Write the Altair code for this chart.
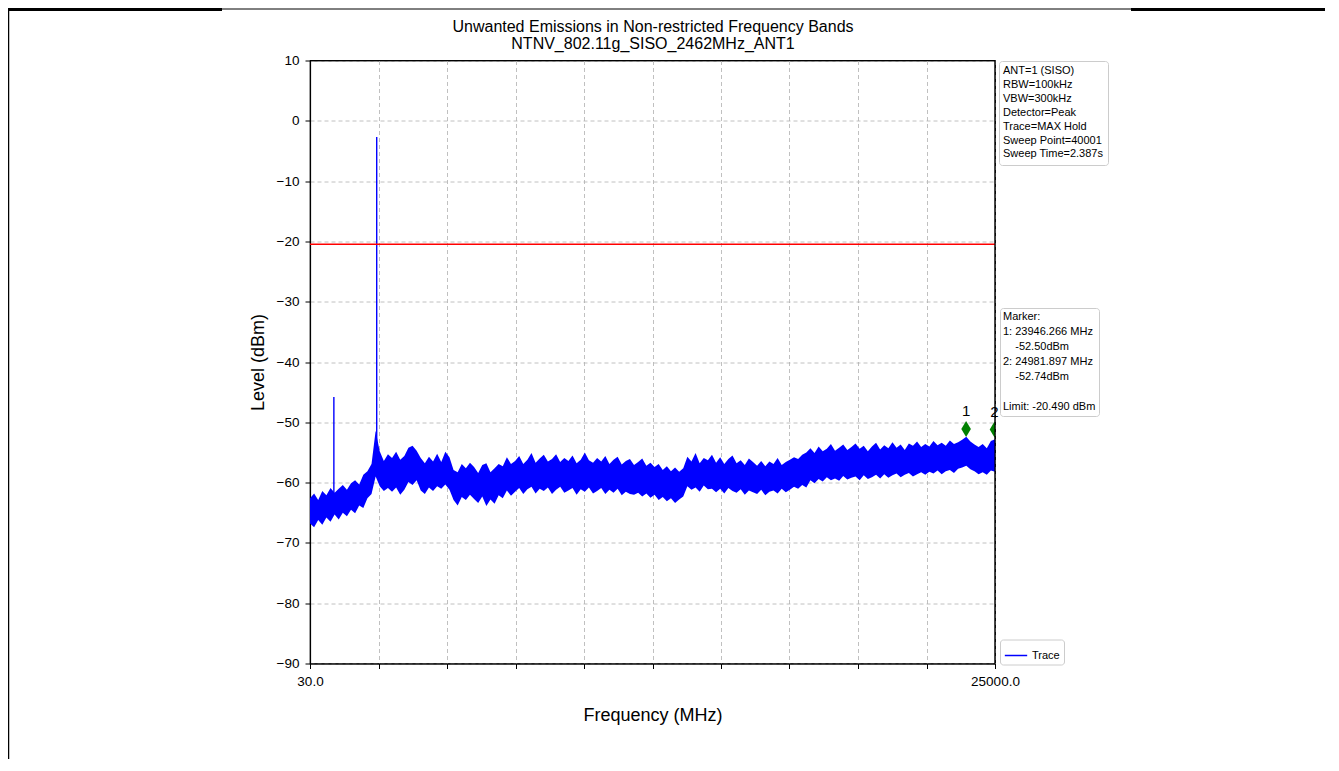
import altair as alt
import numpy as np
import pandas as pd

FONT = "Liberation Sans"

TITLE_LINES = ["Unwanted Emissions in Non-restricted Frequency Bands",
               "NTNV_802.11g_SISO_2462MHz_ANT1"]

SWEEP_START = 30.0
SWEEP_STOP = 25000.0

# noise-band envelope (dBm), evenly spaced sweep bins
UPPER = [
    -62.6, -61.8, -62.9, -61.4, -62.1, -60.9, -61.7, -61.0, -60.4, -61.2,
    -60.1, -59.6, -60.3, -58.7, -58.1, -56.9, -51.4, -54.8, -56.4, -55.3,
    -55.9, -54.9, -56.2, -55.6, -54.2, -53.9, -54.7, -55.9, -56.8, -55.7,
    -56.5, -55.2, -56.6, -54.9, -55.8, -57.9, -58.3, -56.9, -57.6, -56.7,
    -57.4, -58.4, -57.1, -56.8, -58.3, -57.6, -56.9, -57.3, -55.8, -56.9,
    -56.4, -55.6, -56.9, -56.2, -55.1, -56.7, -56.0, -55.4, -56.5, -56.1,
    -55.3, -56.6, -55.9, -56.4, -55.5, -56.8, -56.2, -55.0, -56.3, -56.7,
    -55.9, -56.5, -55.6, -56.9, -56.2, -55.7, -57.0, -56.4, -56.1, -57.1,
    -56.6, -56.0, -57.2, -56.7, -57.4, -56.9, -57.9, -57.3, -58.1, -57.5,
    -58.2, -57.6, -55.7, -56.5, -55.1, -56.8, -55.9, -56.3, -55.4, -56.7,
    -55.8, -56.9, -56.1, -55.5, -56.8, -56.3, -57.1, -56.0, -56.6, -57.2,
    -56.4, -57.3, -56.5, -56.9, -55.9, -57.1, -56.6, -56.2, -55.8, -56.1,
    -55.4, -55.0, -54.3, -55.1, -54.0, -54.8, -54.4, -53.6, -54.7, -54.2,
    -53.7, -54.6, -54.1, -53.5, -54.4, -53.9, -54.8, -54.0, -53.4, -54.5,
    -53.8, -54.3, -53.3, -54.2, -53.7, -54.6, -53.5, -53.9, -53.2, -54.1,
    -53.6, -54.0, -53.1, -53.8, -53.4, -53.9, -53.0, -53.6, -53.3, -52.9,
    -52.4, -53.2, -53.7, -54.1, -53.6, -54.3, -53.1, -52.8]

LOWER = [
    -66.8, -67.4, -66.2, -67.0, -65.8, -66.5, -65.3, -66.1, -65.0, -65.6,
    -64.5, -65.1, -63.8, -64.2, -62.6, -61.9, -59.0, -60.6, -61.4, -60.9,
    -61.5, -60.8, -62.0, -61.2, -59.9, -60.4, -59.6, -61.3, -61.9, -60.8,
    -61.4, -60.6, -61.0, -60.3, -61.2, -62.9, -63.8, -62.4, -62.9, -62.0,
    -62.7, -63.4, -62.3, -63.9, -62.8, -63.5, -62.1, -62.6, -61.3, -62.2,
    -61.5, -60.9, -61.9, -61.1, -60.7, -61.8, -61.0, -61.4, -60.8, -61.9,
    -61.2, -60.7, -61.7, -61.3, -60.9, -62.0, -61.1, -61.5, -60.8, -61.8,
    -61.4, -60.9, -61.9, -61.2, -61.7, -61.0, -62.1, -61.5, -61.9, -62.0,
    -61.7, -62.3, -61.8, -62.5, -62.0, -62.9, -62.4, -63.1, -62.6, -63.4,
    -62.8, -62.3, -60.6, -61.2, -60.8, -61.5, -60.5, -61.1, -61.0, -61.6,
    -61.0, -61.8, -60.9, -61.4, -61.7, -61.1, -62.0, -61.3, -61.6, -61.9,
    -61.2, -62.1, -61.5, -61.3, -61.8, -61.0, -61.6, -61.2, -60.7, -61.0,
    -60.4, -60.8, -59.6, -60.1, -59.4, -59.8, -59.1, -59.6, -59.3, -59.7,
    -58.9, -59.5, -59.2, -59.0, -59.6, -58.8, -59.4, -59.1, -58.7, -59.3,
    -58.6, -59.2, -58.8, -58.5, -59.1, -58.7, -58.4, -59.0, -58.6, -58.3,
    -58.7, -58.2, -58.5, -58.0, -58.6, -58.1, -57.9, -58.4, -57.7, -57.5,
    -57.2, -57.8, -58.1, -58.6, -58.3, -58.7, -58.0, -58.2]

# narrow spurs drawn as vertical strokes
SPIKE_FREQ = [900.0, 2462.0]
SPIKE_TOP = [-45.8, -2.7]
SPIKE_BASE = [-63.0, -59.0]

LIMIT = -20.49

MARKER_FREQ = [23946.266, 24981.897]
MARKER_LEVEL = [-51.1, -51.2]
MARKER_LABEL = ["1", "2"]

X_TICKS = [30, 2527, 5024, 7521, 10018, 12515, 15012, 17509, 20006, 22503, 25000]
Y_TICKS = [-90, -80, -70, -60, -50, -40, -30, -20, -10, 0, 10]

INFO_LINES = ["ANT=1 (SISO)", "RBW=100kHz", "VBW=300kHz", "Detector=Peak",
              "Trace=MAX Hold", "Sweep Point=40001", "Sweep Time=2.387s"]
MARKER_LINES = ["Marker:", "1: 23946.266 MHz",
                "\u200b\u00a0\u00a0\u00a0\u00a0-52.50dBm",
                "2: 24981.897 MHz",
                "\u200b\u00a0\u00a0\u00a0\u00a0-52.74dBm",
                "\u200b",
                "Limit: -20.490 dBm"]

# ---------------------------------------------------------------- data frames
band = pd.DataFrame({
    "freq": np.linspace(SWEEP_START, SWEEP_STOP, len(UPPER)),
    "upper": UPPER,
    "lower": LOWER,
    "series": "Trace",
})
spikes = pd.DataFrame({"freq": SPIKE_FREQ, "top": SPIKE_TOP, "base": SPIKE_BASE,
                       "series": "Trace"})
limit_df = pd.DataFrame({"level": [LIMIT]})
markers = pd.DataFrame({"freq": MARKER_FREQ, "level": MARKER_LEVEL, "label": MARKER_LABEL})
one = pd.DataFrame({"a": [0]})

X_SCALE = alt.Scale(domain=[SWEEP_START, SWEEP_STOP], nice=False, zero=False)
Y_SCALE = alt.Scale(domain=[-90, 10], nice=False, zero=False)

x_axis = alt.Axis(
    values=X_TICKS,
    labelExpr="datum.value == 30 || datum.value == 25000 ? format(datum.value, '.1f') : ''",
    labelFlush=False, labelPadding=6, title="Frequency (MHz)",
    titleY=43, titleBaseline="top", titleFontSize=18,
)
y_axis = alt.Axis(
    values=Y_TICKS,
    labelExpr="replace(format(datum.value, 'd'), '-', '\u2212')",
    labelPadding=6, title="Level (dBm)", titleFontSize=18,
    titleAngle=270, titleX=-52, titleY=301.5, titleBaseline="middle", titleAlign="center",
)

color_scale = alt.Scale(domain=["Trace"], range=["#0000ff"])
trace_legend = alt.Legend(
    orient="none", legendX=690, legendY=579, title=None,
    symbolType="stroke", symbolStrokeColor="#0000ff", symbolStrokeWidth=1.5,
    symbolSize=500, labelFontSize=11, labelFont=FONT, labelColor="black",
    strokeColor="#cccccc", fillColor="white", padding=4, cornerRadius=3,
)

area = alt.Chart(band).mark_area(interpolate="linear", opacity=1).encode(
    x=alt.X("freq:Q", scale=X_SCALE, axis=x_axis),
    y=alt.Y("upper:Q", scale=Y_SCALE, axis=y_axis),
    y2="lower:Q",
    color=alt.Color("series:N", scale=color_scale, legend=trace_legend),
)

spike_layer = alt.Chart(spikes).mark_rule(strokeWidth=1.4).encode(
    x=alt.X("freq:Q", scale=X_SCALE),
    y=alt.Y("top:Q", scale=Y_SCALE),
    y2="base:Q",
    color=alt.Color("series:N", scale=color_scale, legend=trace_legend),
)

limit_layer = alt.Chart(limit_df).mark_rule(color="#ff0000", strokeWidth=1.5).encode(
    y=alt.Y("level:Q", scale=Y_SCALE),
)

diamond = "M0,-1L0.6,0L0,1L-0.6,0Z"
marker_layer = alt.Chart(markers).mark_point(
    shape=diamond, filled=True, color="#008000", size=256, opacity=1, clip=True
).encode(
    x=alt.X("freq:Q", scale=X_SCALE),
    y=alt.Y("level:Q", scale=Y_SCALE),
)
marker_text = alt.Chart(markers).mark_text(
    dy=-18, fontSize=15, font=FONT, color="black"
).encode(
    x=alt.X("freq:Q", scale=X_SCALE),
    y=alt.Y("level:Q", scale=Y_SCALE),
    text="label:N",
)


def text_box(field, lines, lx, ly, line_h, pad):
    df = pd.DataFrame({field: ["\u200b"]})
    return alt.Chart(df).mark_point(opacity=0, size=1).encode(
        x=alt.value(0), y=alt.value(0),
        shape=alt.Shape(f"{field}:N", legend=alt.Legend(
            orient="none", legendX=lx, legendY=ly,
            title=lines, titleFontSize=11, titleFont=FONT, titleFontWeight="normal",
            titleColor="black", titleLineHeight=line_h, titleLimit=400, titlePadding=0,
            titleBaseline="top",
            symbolSize=1, symbolOpacity=0, symbolStrokeWidth=0,
            labelOffset=0, labelFontSize=1, labelColor="white",
            strokeColor="#cccccc", fillColor="white",
            padding=pad, cornerRadius=3,
        )),
    )


info_layer = text_box("info", INFO_LINES, 689, 0.5, 13.9, 4)
mk_layer = text_box("mk", MARKER_LINES, 690, 247.5, 15.0, 3)

# title lines (annotation text above the plot)
title1 = alt.Chart(one).mark_text(font=FONT, fontSize=16, color="black", baseline="middle").encode(
    x=alt.value(343), y=alt.value(-34), text=alt.value(TITLE_LINES[0]))
title2 = alt.Chart(one).mark_text(font=FONT, fontSize=16, color="black", baseline="middle").encode(
    x=alt.value(343), y=alt.value(-17), text=alt.value(TITLE_LINES[1]))

# solid top and right spines
spine_top = alt.Chart(one).mark_rule(color="black", strokeWidth=1.2).encode(y=alt.value(0))
spine_right = alt.Chart(one).mark_rule(color="black", strokeWidth=1.2).encode(x=alt.value(685))

# page frame lines from the scanned figure
frame_top = alt.Chart(one).mark_rule(color="black", strokeWidth=1).encode(
    x=alt.value(-302), x2=alt.value(1015), y=alt.value(-51.5))
frame_top_l = alt.Chart(one).mark_rule(color="black", strokeWidth=3).encode(
    x=alt.value(-302), x2=alt.value(-88), y=alt.value(-51))
frame_top_r = alt.Chart(one).mark_rule(color="black", strokeWidth=3).encode(
    x=alt.value(821), x2=alt.value(1015), y=alt.value(-51))
frame_left = alt.Chart(one).mark_rule(color="black", strokeWidth=1.5).encode(
    x=alt.value(-301.5), y=alt.value(-52), y2=alt.value(700))

chart = alt.layer(
    area, spike_layer, limit_layer, marker_layer, marker_text,
    spine_top, spine_right,
    info_layer, mk_layer, title1, title2,
    frame_top, frame_top_l, frame_top_r, frame_left,
).resolve_scale(
    shape="independent"
).resolve_legend(
    shape="independent"
).properties(
    width=685, height=603,
    autosize=alt.AutoSizeParams(type="none"),
    padding={"left": 302, "top": 52.5, "right": 330, "bottom": 95},
).configure(
    background="white"
).configure_axis(
    domainColor="black", domainWidth=1.2, tickColor="black", tickWidth=1, tickSize=5,
    gridColor="#b0b0b0", gridDash=[4, 3], gridWidth=0.8,
    labelFont=FONT, labelFontSize=13.5, labelColor="black",
    titleFont=FONT, titleFontWeight="normal", titleColor="black",
).configure_view(
    stroke="black", strokeWidth=1.2
)

chart.save("out.html", embed_options={"renderer": "svg", "actions": False})
